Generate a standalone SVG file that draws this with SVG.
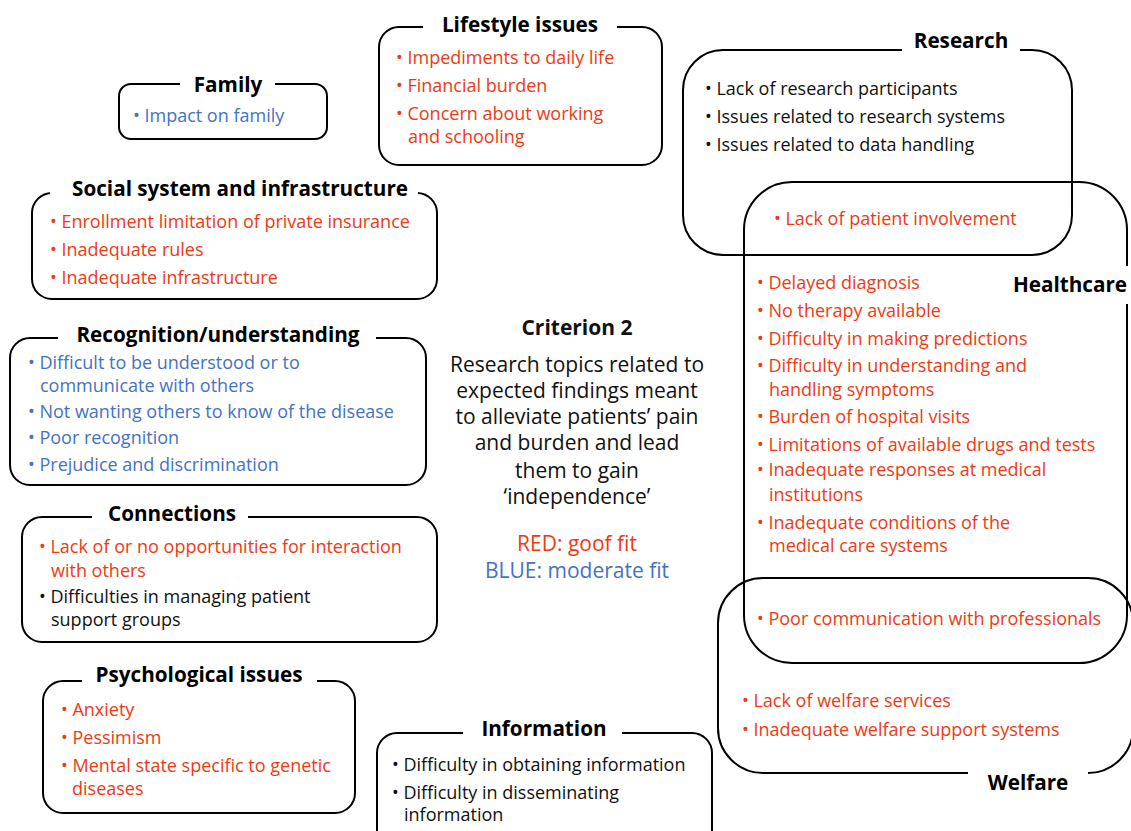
<svg xmlns="http://www.w3.org/2000/svg" width="1131" height="831" viewBox="0 0 1131 831">
<style>
.box{fill:none;stroke:#000;stroke-width:2}
.mask{fill:#fff;stroke:none}
text{font-family:"Open Sans","Noto Sans",sans-serif}
.t{font-size:20.7px;font-weight:bold;fill:#000}
.i{font-size:18px}
.c{font-size:21px;text-anchor:middle;fill:#111}
.r{fill:#EE3A14}
.b{fill:#4472C4}
.k{fill:#111}
</style>
<rect width="1131" height="831" fill="#fff"/>
<g id="family">
<rect class="box" x="119" y="84" width="208" height="55" rx="12"/>
<rect class="mask" x="180" y="70" width="95" height="28"/>
<text class="t" x="228" y="92" text-anchor="middle">Family</text>
<text class="i b" x="133" y="122">• Impact on family</text>
</g>
<g id="lifestyle">
<rect class="box" x="379" y="27" width="283" height="138" rx="20"/>
<rect class="mask" x="423" y="10" width="194" height="30"/>
<text class="t" x="520" y="32" text-anchor="middle">Lifestyle issues</text>
<text class="i r" x="396" y="64">• Impediments to daily life</text>
<text class="i r" x="396" y="92">• Financial burden</text>
<text class="i r" x="396" y="120">• Concern about working</text>
<text class="i r" x="408" y="143">and schooling</text>
</g>
<g id="social">
<rect class="box" x="32" y="193" width="405" height="106" rx="20"/>
<rect class="mask" x="50" y="176" width="368" height="30"/>
<text class="t" x="240" y="196" text-anchor="middle">Social system and infrastructure</text>
<text class="i r" x="50" y="228">• Enrollment limitation of private insurance</text>
<text class="i r" x="50" y="256">• Inadequate rules</text>
<text class="i r" x="50" y="284">• Inadequate infrastructure</text>
</g>
<g id="recognition">
<rect class="box" x="10" y="338" width="416" height="147" rx="20"/>
<rect class="mask" x="58" y="320" width="318" height="30"/>
<text class="t" x="218" y="342" text-anchor="middle">Recognition/understanding</text>
<text class="i b" x="28" y="369">• Difficult to be understood or to</text>
<text class="i b" x="40" y="392">communicate with others</text>
<text class="i b" x="28" y="418">• Not wanting others to know of the disease</text>
<text class="i b" x="28" y="444">• Poor recognition</text>
<text class="i b" x="28" y="471">• Prejudice and discrimination</text>
</g>
<g id="connections">
<rect class="box" x="22" y="517" width="415" height="125" rx="20"/>
<rect class="mask" x="92" y="500" width="156" height="30"/>
<text class="t" x="172" y="521" text-anchor="middle">Connections</text>
<text class="i r" x="39" y="553">• Lack of or no opportunities for interaction</text>
<text class="i r" x="51" y="577">with others</text>
<text class="i k" x="39" y="603">• Difficulties in managing patient</text>
<text class="i k" x="51" y="626">support groups</text>
</g>
<g id="psychological">
<rect class="box" x="43" y="681" width="312" height="132" rx="20"/>
<rect class="mask" x="82" y="662" width="235" height="30"/>
<text class="t" x="199" y="682" text-anchor="middle">Psychological issues</text>
<text class="i r" x="61" y="716">• Anxiety</text>
<text class="i r" x="61" y="744">• Pessimism</text>
<text class="i r" x="61" y="772">• Mental state specific to genetic</text>
<text class="i r" x="72" y="795">diseases</text>
</g>
<g id="information">
<rect class="box" x="377" y="733" width="335" height="120" rx="20"/>
<rect class="mask" x="463" y="715" width="159" height="30"/>
<text class="t" x="544" y="736" text-anchor="middle">Information</text>
<text class="i k" x="392" y="771">• Difficulty in obtaining information</text>
<text class="i k" x="392" y="799">• Difficulty in disseminating</text>
<text class="i k" x="404" y="821">information</text>
</g>
<g id="research">
<rect class="box" x="683" y="50" width="389" height="205" rx="40"/>
<rect class="mask" x="902" y="30" width="118" height="30"/>
<text class="t" x="961" y="48" text-anchor="middle">Research</text>
<text class="i k" x="705" y="95">• Lack of research participants</text>
<text class="i k" x="705" y="123">• Issues related to research systems</text>
<text class="i k" x="705" y="151">• Issues related to data handling</text>
</g>
<g id="healthcare">
<rect class="box" x="744" y="182" width="383" height="481" rx="48"/>
<rect class="mask" x="1010" y="266" width="121" height="38"/>
<text class="t" x="1070" y="292" text-anchor="middle">Healthcare</text>
<text class="i r" x="774" y="225">• Lack of patient involvement</text>
<text class="i r" x="757" y="289">• Delayed diagnosis</text>
<text class="i r" x="757" y="317">• No therapy available</text>
<text class="i r" x="757" y="345">• Difficulty in making predictions</text>
<text class="i r" x="757" y="372">• Difficulty in understanding and</text>
<text class="i r" x="769" y="396">handling symptoms</text>
<text class="i r" x="757" y="423">• Burden of hospital visits</text>
<text class="i r" x="757" y="451">• Limitations of available drugs and tests</text>
<text class="i r" x="757" y="476">• Inadequate responses at medical</text>
<text class="i r" x="769" y="501">institutions</text>
<text class="i r" x="757" y="529">• Inadequate conditions of the</text>
<text class="i r" x="769" y="552">medical care systems</text>
<text class="i r" x="757" y="625">• Poor communication with professionals</text>
</g>
<g id="welfare">
<rect class="box" x="718" y="578" width="415" height="195" rx="45"/>
<rect class="mask" x="968" y="765" width="120" height="30"/>
<text class="t" x="1028" y="790" text-anchor="middle">Welfare</text>
<text class="i r" x="742" y="707">• Lack of welfare services</text>
<text class="i r" x="742" y="736">• Inadequate welfare support systems</text>
</g>
<g id="criterion">
<text class="c" x="577" y="335" font-weight="bold">Criterion 2</text>
<text class="c" x="577" y="372">Research topics related to</text>
<text class="c" x="577" y="398">expected findings meant</text>
<text class="c" x="577" y="424">to alleviate patients’ pain</text>
<text class="c" x="577" y="450">and burden and lead</text>
<text class="c" x="577" y="478">them to gain</text>
<text class="c" x="577" y="504">‘independence’</text>
<text class="c r" x="577" y="551">RED: goof fit</text>
<text class="c b" x="577" y="578">BLUE: moderate fit</text>
</g>
<g id="connectors"></g>
</svg>
